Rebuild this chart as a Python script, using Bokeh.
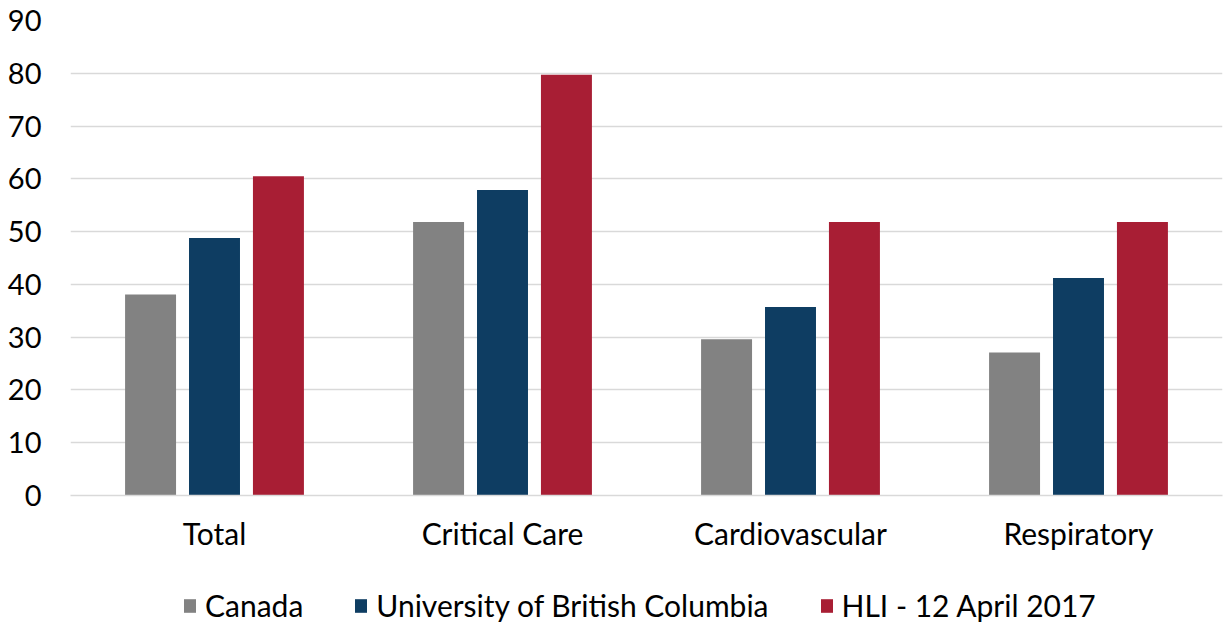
from bokeh.plotting import figure
from bokeh.models import ColumnDataSource, FactorRange, Range1d, FixedTicker, Legend
from bokeh.layouts import column
from bokeh.transform import dodge
from bokeh.embed import file_html
from bokeh.resources import INLINE

categories = ["Total", "Critical Care", "Cardiovascular", "Respiratory"]
canada = [38.1, 51.8, 29.6, 27.1]
ubc = [48.8, 57.9, 35.7, 41.2]
hli = [60.5, 79.7, 51.8, 51.8]
series_names = ["Canada", "University of British Columbia", "HLI - 12 April 2017"]
colors = ["#828282", "#0e3d62", "#a81e34"]
y_ticks = [0, 10, 20, 30, 40, 50, 60, 70, 80, 90]

FONT = "Lato"

source = ColumnDataSource(dict(cat=categories, canada=canada, ubc=ubc, hli=hli))

p = figure(width=1227, height=560, x_range=FactorRange(*categories),
           y_range=Range1d(0, 90), output_backend="svg", toolbar_location=None,
           min_border_left=70, min_border_right=5, min_border_top=20, min_border_bottom=65)
p.outline_line_color = None

for field, off, col in zip(["canada", "ubc", "hli"], [-0.222, 0.0, 0.222], colors):
    p.vbar(x=dodge("cat", off, range=p.x_range), top=field, width=0.177,
           source=source, fill_color=col, line_color=None)

p.xgrid.grid_line_color = None
p.ygrid.grid_line_color = "#d9d9d9"
p.ygrid.grid_line_width = 1.5

p.yaxis.ticker = FixedTicker(ticks=y_ticks)
p.yaxis.axis_line_color = None
p.yaxis.major_tick_line_color = None
p.yaxis.minor_tick_line_color = None
p.yaxis.major_label_standoff = 23
p.yaxis.major_label_text_font = FONT
p.yaxis.major_label_text_font_size = "29px"
p.yaxis.major_label_text_color = "#000000"

p.xaxis.axis_line_color = "#d9d9d9"
p.xaxis.axis_line_width = 1.5
p.xaxis.major_tick_line_color = None
p.xaxis.minor_tick_line_color = None
p.xaxis.major_label_standoff = 13
p.xaxis.major_label_text_font = FONT
p.xaxis.major_label_text_font_size = "30px"
p.xaxis.major_label_text_color = "#000000"

# legend strip below the chart (legend swatches only, zero-height dummy bars)
lg = figure(width=1227, height=64, x_range=Range1d(0, 1), y_range=Range1d(0, 1),
            output_backend="svg", toolbar_location=None,
            x_axis_location=None, y_axis_location=None,
            min_border_left=0, min_border_right=0, min_border_top=0, min_border_bottom=0)
lg.outline_line_color = None
lg.xgrid.grid_line_color = None
lg.ygrid.grid_line_color = None
swatch = ColumnDataSource(dict(x=[-5.0], top=[-5.0], bottom=[-5.0]))
leg_renderers = [lg.vbar(x="x", top="top", bottom="bottom", width=0.1, source=swatch,
                         fill_color=c, line_color=None) for c in colors]

legend = Legend(items=[(n, [r]) for n, r in zip(series_names, leg_renderers)],
                orientation="horizontal", location=(112, 1))
legend.label_text_font = FONT
legend.label_text_font_size = "30px"
legend.label_text_color = "#000000"
legend.glyph_width = 15
legend.glyph_height = 17
legend.label_standoff = 8
legend.spacing = 50
legend.padding = 0
legend.margin = 0
legend.border_line_color = None
legend.background_fill_alpha = 0
lg.add_layout(legend)

layout = column(p, lg, spacing=0)
open("out.html", "w").write(file_html(layout, INLINE))
